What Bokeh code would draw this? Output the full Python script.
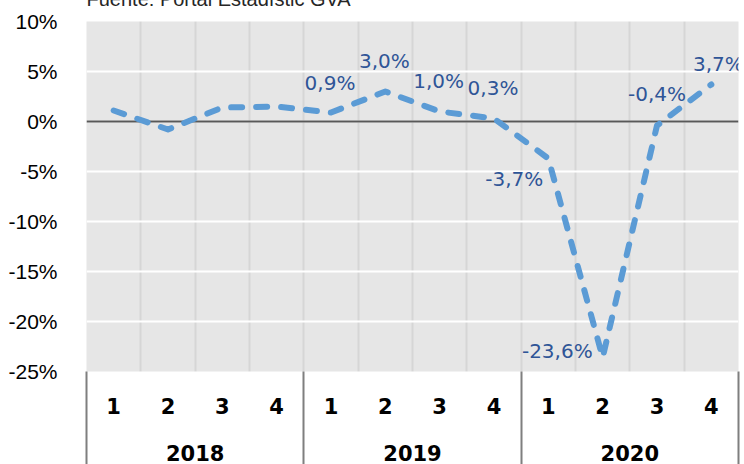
from bokeh.plotting import figure
from bokeh.models import (Range1d, LinearAxis, FixedTicker, PrintfTickFormatter,
                          Span, ColumnDataSource)
from bokeh.embed import file_html
from bokeh.resources import INLINE
from bokeh.core.properties import value

# ---- data ----
years = ["2018", "2019", "2020"]
quarters = ["1", "2", "3", "4"]
values = [1.1, -0.8, 1.4, 1.5, 0.9, 3.0, 1.0, 0.3, -3.7, -23.6, -0.4, 3.7]
labels = ["", "", "", "", "0,9%", "3,0%", "1,0%", "0,3%", "-3,7%", "-23,6%", "-0,4%", "3,7%"]
y_ticks = [-25, -20, -15, -10, -5, 0, 5, 10]
source_note = "Fuente: Portal Estadístic GVA"

# ---- label styling (screen offsets) ----
label_dx = [0, 0, 0, 0, -1, -1, -1, -1, -5, -10, 0, 7]
label_dy = [0, 0, 0, 0, -30, -31, -31, -31, 20, -7, -32, -21]
label_align = ["center"] * 8 + ["right", "right", "center", "center"]

n = len(years) * len(quarters)
xs = [i + 0.5 for i in range(n)]
quarter_of = [q for y in years for q in quarters]

src = ColumnDataSource(dict(x=xs, y=values, text=labels,
                            dx=label_dx, dy=label_dy, align=label_align))

# the top 40px of the canvas (holding the source note) is shifted above the page,
# so the note shows cropped at the top edge as in the original
CROP = 40
p = figure(width=744, height=464 + CROP, output_backend="svg", toolbar_location=None,
           x_range=Range1d(0, n), y_range=Range1d(y_ticks[0], y_ticks[-1]),
           x_axis_location=None, y_axis_location="left",
           min_border_left=86, min_border_right=6, min_border_top=21 + CROP, min_border_bottom=93,
           margin=(-CROP, 0, 0, 0))
p.background_fill_color = "#e6e6e6"
p.border_fill_color = "white"
p.outline_line_color = None

# source note as title
p.title.text = source_note
p.title.align = "left"
p.title.offset = 0
p.title.vertical_align = "bottom"
p.title.standoff = 24
p.title.text_font = "Liberation Sans"
p.title.text_font_style = "normal"
p.title.text_font_size = "20px"
p.title.text_color = "#262626"

# y axis
yax = p.yaxis[0]
yax.ticker = FixedTicker(ticks=y_ticks)
yax.formatter = PrintfTickFormatter(format="%d%%")
yax.axis_line_color = None
yax.major_tick_line_color = None
yax.minor_tick_line_color = None
yax.major_label_standoff = 23
yax.major_label_text_font = "Liberation Sans"
yax.major_label_text_font_size = "21px"
yax.major_label_text_color = "#000000"

# grids
p.ygrid.ticker = FixedTicker(ticks=y_ticks)
p.ygrid.grid_line_color = "white"
p.ygrid.grid_line_width = 2
p.xgrid.ticker = FixedTicker(ticks=list(range(n + 1)))
p.xgrid.grid_line_color = "#d6d6d6"
p.xgrid.grid_line_width = 2

# quarter axis with year separators
q_axis = LinearAxis(ticker=FixedTicker(ticks=xs, minor_ticks=list(range(0, n + 1, len(quarters)))),
                    major_label_overrides={x: quarter_of[i] for i, x in enumerate(xs)})
q_axis.axis_line_color = None
q_axis.major_tick_in = 0
q_axis.major_tick_out = 0
q_axis.minor_tick_in = 0
q_axis.minor_tick_out = 93
q_axis.minor_tick_line_color = "#7f7f7f"
q_axis.minor_tick_line_width = 2
q_axis.major_label_standoff = -67
q_axis.major_label_text_font = "DejaVu Sans"
q_axis.major_label_text_font_style = "bold"
q_axis.major_label_text_font_size = "21px"
q_axis.major_label_text_color = "#000000"
p.add_layout(q_axis, "below")

year_centers = [int(i * len(quarters) + len(quarters) / 2) for i in range(len(years))]
y_axis2 = LinearAxis(ticker=FixedTicker(ticks=year_centers),
                     major_label_overrides={c: years[i] for i, c in enumerate(year_centers)})
y_axis2.axis_line_color = None
y_axis2.major_tick_line_color = None
y_axis2.minor_tick_line_color = None
y_axis2.major_label_standoff = 22
y_axis2.major_label_text_font = "DejaVu Sans"
y_axis2.major_label_text_font_style = "bold"
y_axis2.major_label_text_font_size = "21px"
y_axis2.major_label_text_color = "#000000"
p.add_layout(y_axis2, "below")

# zero line
p.add_layout(Span(location=0, dimension="width", line_color="#595959", line_width=2, level="underlay"))

# data line
p.line("x", "y", source=src, line_color="#5b9bd5", line_width=6,
       line_dash="11 14", line_cap="round", line_join="round")

# data labels
p.text("x", "y", text="text", source=src, x_offset="dx", y_offset="dy",
       text_align="align", text_baseline="middle",
       text_font=value("DejaVu Sans"), text_font_size="20px", text_color="#2f5597")

open("out.html", "w").write(file_html(p, INLINE))
